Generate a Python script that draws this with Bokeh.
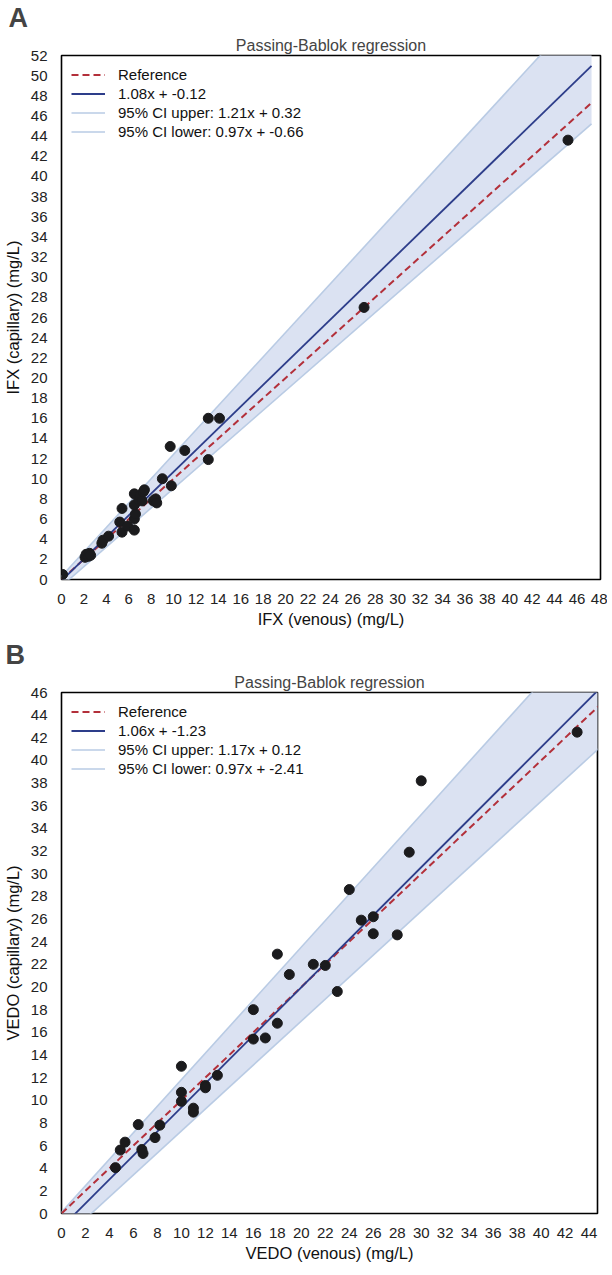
import numpy as np
from bokeh.plotting import figure
from bokeh.layouts import column
from bokeh.models import Title, SingleIntervalTicker, Legend, LegendItem, Range1d
from bokeh.embed import file_html
from bokeh.resources import INLINE

# ---------------- data ----------------
ifx_venous = [0.1, 2.1, 2.2, 2.4, 2.5, 2.6, 3.6, 3.7, 4.2, 5.2, 5.4, 5.4, 5.9, 6.5, 6.5, 6.6,
              6.5, 6.5, 6.9, 7.0, 7.2, 7.3, 7.4, 8.2, 8.4, 8.5, 9.0, 9.8, 9.7, 11.0, 13.1,
              14.1, 13.1, 27.0, 45.2]
ifx_capillary = [0.5, 2.2, 2.5, 2.3, 2.6, 2.4, 3.6, 3.9, 4.3, 5.7, 4.7, 7.05, 5.3, 4.9, 6.0, 6.5,
                 8.5, 7.4, 7.9, 8.3, 7.8, 8.7, 8.9, 7.8, 8.0, 7.6, 10.0, 9.3, 13.2, 12.8, 16.0,
                 16.0, 11.9, 27.0, 43.6]
ifx_fit = (1.08, -0.12)
ifx_ci_upper = (1.21, 0.32)
ifx_ci_lower = (0.97, -0.66)
ifx_line_x = [0.0, 47.3]

vedo_venous = [4.5, 4.9, 5.3, 6.4, 6.7, 6.8, 7.8, 8.2, 10.0, 10.0, 10.0, 11.0, 11.0, 12.0, 12.0,
               13.0, 16.0, 16.0, 17.0, 18.0, 18.0, 19.0, 21.0, 22.0, 23.0, 24.0, 25.0, 26.0,
               26.0, 28.0, 29.0, 30.0, 43.0]
vedo_capillary = [4.05, 5.6, 6.3, 7.85, 5.65, 5.3, 6.7, 7.8, 13.0, 10.7, 9.9, 9.3, 8.95, 11.3, 11.1,
                  12.2, 18.0, 15.4, 15.5, 16.8, 22.9, 21.1, 22.0, 21.9, 19.6, 28.6, 25.9, 26.2,
                  24.7, 24.6, 31.9, 38.2, 42.5]
vedo_fit = (1.06, -1.23)
vedo_ci_upper = (1.17, 0.12)
vedo_ci_lower = (0.97, -2.41)
vedo_line_x = [0.0, 45.0]

FONT = "Liberation Sans"
RED = "#b3303a"
BLUE = "#2d3d8a"
BAND_FILL = "#dbe2f2"
BAND_EDGE = "#b9cbe4"


def fmt(a, b):
    return f"{a:.2f}x + {b:.2f}"


def panel(letter, xs, ys, fit, up, lo, line_x, xmax, ymax, xlabel, ylabel,
          height, frame_w, frame_h, border_left, border_top):
    p = figure(width=600, height=height, output_backend="svg", toolbar_location=None,
               x_range=Range1d(0, xmax), y_range=Range1d(0, ymax),
               min_border_left=border_left, min_border_top=border_top,
               min_border_right=7, min_border_bottom=10,
               frame_width=frame_w, frame_height=frame_h, title=None)
    p.add_layout(Title(text="Passing-Bablok regression", align="center",
                       text_font=FONT, text_font_size="16px", text_font_style="normal",
                       standoff=4), "above")
    p.add_layout(Title(text=letter, align="left", text_font=FONT,
                       text_font_size="27px", text_font_style="bold",
                       offset=-border_left + 1, standoff=0), "above")
    p.outline_line_color = "black"
    p.outline_line_width = 1.6
    p.xgrid.visible = False
    p.ygrid.visible = False
    p.background_fill_color = "white"
    for ax in (p.xaxis[0], p.yaxis[0]):
        ax.ticker = SingleIntervalTicker(interval=2)
        ax.axis_line_color = None
        ax.major_tick_line_color = None
        ax.minor_tick_line_color = None
        ax.major_label_text_font = FONT
        ax.major_label_text_font_size = "15px"
        ax.major_label_text_color = "#222222"
        ax.axis_label_text_font = FONT
        ax.axis_label_text_font_size = "16.5px"
        ax.axis_label_text_font_style = "normal"
        ax.axis_label_text_color = "#111111"
    p.xaxis.axis_label = xlabel
    p.yaxis.axis_label = ylabel
    p.xaxis.major_label_standoff = 8
    p.yaxis.major_label_standoff = 8
    p.xaxis.axis_label_standoff = 3
    p.yaxis.axis_label_standoff = 6

    lx = np.array(line_x)
    y_up = up[0] * lx + up[1]
    y_lo = lo[0] * lx + lo[1]
    y_fit = fit[0] * lx + fit[1]

    p.varea(x=lx, y1=y_lo, y2=y_up, fill_color=BAND_FILL, fill_alpha=1.0)
    r_up = p.line(lx, y_up, line_color=BAND_EDGE, line_width=1.6)
    r_lo = p.line(lx, y_lo, line_color=BAND_EDGE, line_width=1.6)
    r_ref = p.line(lx, lx, line_color=RED, line_width=2, line_dash="7 4")
    r_fit = p.line(lx, y_fit, line_color=BLUE, line_width=1.8)
    p.scatter(xs, ys, size=10, fill_color="#1b1b1d", line_color="#1b1b1d")

    legend = Legend(items=[
        LegendItem(label="Reference", renderers=[r_ref]),
        LegendItem(label=fmt(*fit), renderers=[r_fit]),
        LegendItem(label=f"95% CI upper: {fmt(*up)}", renderers=[r_up]),
        LegendItem(label=f"95% CI lower: {fmt(*lo)}", renderers=[r_lo]),
    ], location="top_left", border_line_color=None, background_fill_alpha=0,
        label_text_font=FONT, label_text_font_size="15px", label_text_color="#111111",
        glyph_width=34, glyph_height=19, label_height=19, spacing=0,
        padding=0, margin=10, label_standoff=13)
    p.add_layout(legend)
    return p


pa = panel("A", ifx_venous, ifx_capillary, ifx_fit, ifx_ci_upper, ifx_ci_lower, ifx_line_x,
           48.1, 52, "IFX (venous) (mg/L)", "IFX (capillary) (mg/L)",
           height=626, frame_w=539, frame_h=524, border_left=54, border_top=51)
pb = panel("B", vedo_venous, vedo_capillary, vedo_fit, vedo_ci_upper, vedo_ci_lower, vedo_line_x,
           44.7, 46, "VEDO (venous) (mg/L)", "VEDO (capillary) (mg/L)",
           height=633, frame_w=536, frame_h=521, border_left=57, border_top=62)

layout = column(pa, pb, spacing=0)
open("out.html", "w").write(file_html(layout, INLINE))
